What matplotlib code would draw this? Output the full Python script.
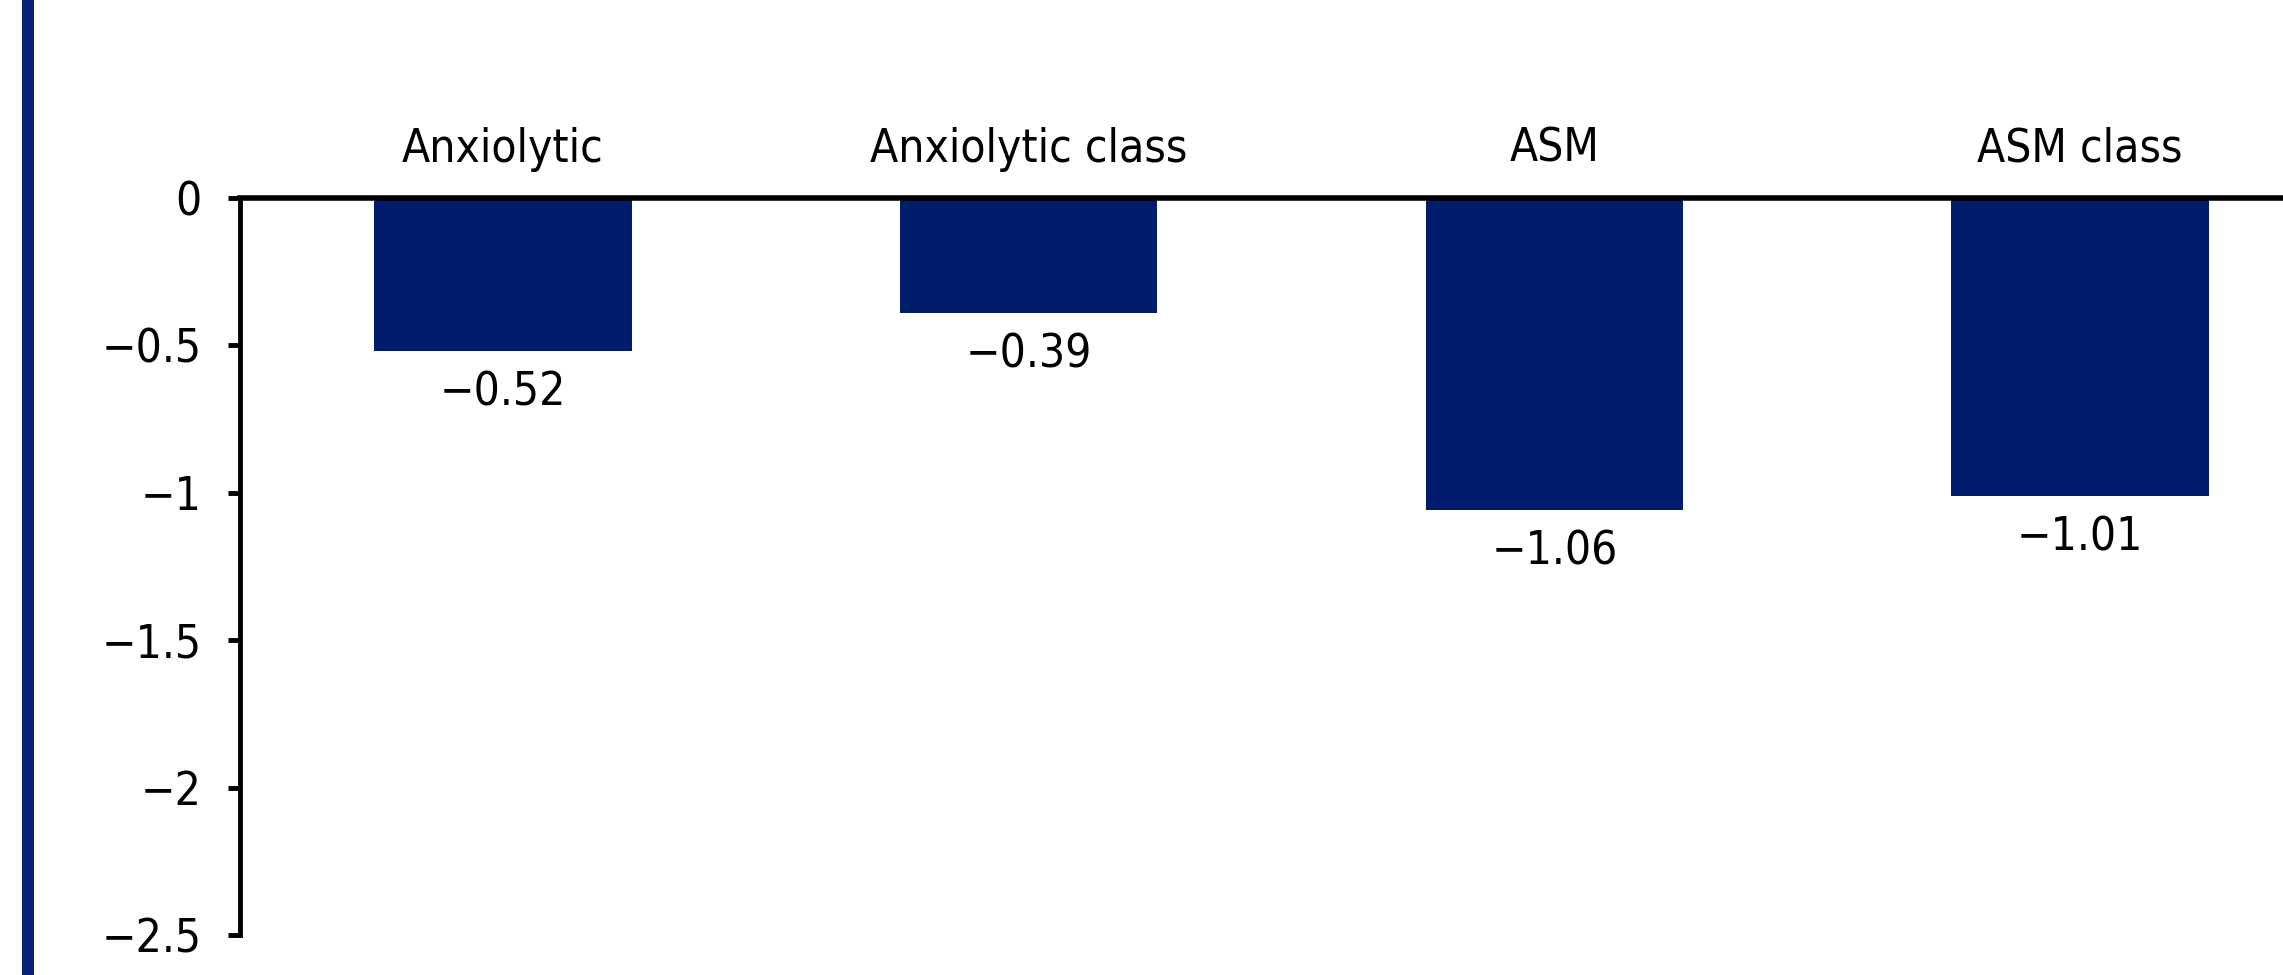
import matplotlib
matplotlib.use('Agg')
import numpy as np
from matplotlib import pyplot as plt
from matplotlib.patches import Rectangle
from matplotlib.ticker import FuncFormatter

W, H, DPI = 2283, 975, 100
NAVY = '#001c6c'

categories = ['Anxiolytic', 'Anxiolytic class', 'ASM', 'ASM class']
values = [-0.52, -0.39, -1.06, -1.01]
yticks = [0, -0.5, -1, -1.5, -2, -2.5]

plt.rcParams['font.family'] = ['DejaVu Sans']
plt.rcParams['font.stretch'] = 'condensed'
plt.rcParams['font.size'] = 33


def minus(s):
    return s.replace('-', '\u2212')


fig = plt.figure(figsize=(W / DPI, H / DPI), dpi=DPI)
ax = fig.add_axes([240 / W, 40 / H, 1 - 240 / W, (935 - 198) / H])

xs = np.arange(len(categories))
ax.bar(xs, values, width=0.49, color=NAVY)

ax.set_xlim(-0.5, 3.386)
ax.set_ylim(-2.5, 0)
ax.set_yticks(yticks)
ax.yaxis.set_major_formatter(FuncFormatter(lambda v, p: minus('%g' % v)))
ax.set_xticks([])

for side in ['right', 'bottom']:
    ax.spines[side].set_visible(False)
ax.spines['left'].set_linewidth(3.5)
ax.spines['top'].set_linewidth(4)
ax.tick_params(axis='y', length=8.5, width=3.5, pad=19, labelsize=33)

for x, name, v in zip(xs, categories, values):
    ax.annotate(name, (x, 0), xytext=(0, 26), textcoords='offset points',
                ha='center', va='baseline', fontsize=33)
    ax.annotate(minus('%.2f' % v), (x, v), xytext=(0, -14),
                textcoords='offset points', ha='center', va='top', fontsize=33)

# thin navy stripe along the left edge
fig.add_artist(Rectangle((22 / W, 0), 12 / W, 1, transform=fig.transFigure,
                         color='#0a1f78', lw=0))

fig.savefig('out.png', dpi=DPI)
